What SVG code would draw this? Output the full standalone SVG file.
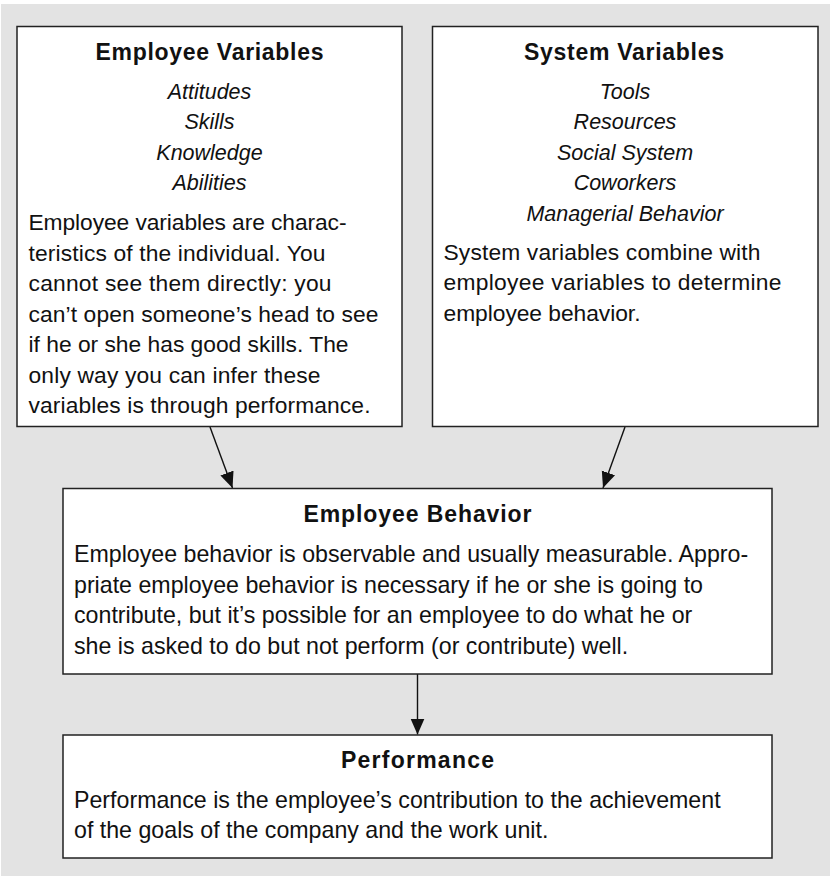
<svg xmlns="http://www.w3.org/2000/svg" width="830" height="876" viewBox="0 0 830 876">
  <style>
    .box { fill: #ffffff; stroke: #222222; stroke-width: 1.5; }
    .title { font-family: "Liberation Sans", Arial, sans-serif; font-weight: bold; font-size: 23px; fill: #111111; text-anchor: middle; }
    .item { font-family: "Liberation Sans", Arial, sans-serif; font-style: italic; font-size: 21.5px; fill: #111111; text-anchor: middle; }
    .body { font-family: "Liberation Sans", Arial, sans-serif; font-size: 22.8px; fill: #111111; }
    .wide { font-size: 23.2px; }
    .conn { stroke: #111111; stroke-width: 1.4; fill: none; }
  </style>
  <defs>
    <marker id="arrow" markerUnits="userSpaceOnUse" markerWidth="17" markerHeight="15" refX="16" refY="7" orient="auto">
      <path d="M0,0 L16,7 L0,14 z" fill="#111111"/>
    </marker>
  </defs>

  <!-- panel background -->
  <rect x="1" y="4" width="829" height="872" fill="#e3e3e3"/>

  <!-- connectors -->
  <g id="connectors">
    <line class="conn" x1="210" y1="427" x2="232.5" y2="488" marker-end="url(#arrow)"/>
    <line class="conn" x1="625" y1="427" x2="603" y2="488" marker-end="url(#arrow)"/>
    <line class="conn" x1="417.5" y1="674" x2="417.5" y2="734.5" marker-end="url(#arrow)"/>
  </g>

  <g id="employee-variables">
    <rect class="box" x="17" y="26.5" width="385" height="400"/>
    <text class="title" x="209.5" y="60" textLength="228">Employee Variables</text>
    <text class="item" x="209.5" y="99">Attitudes</text>
    <text class="item" x="209.5" y="129.3">Skills</text>
    <text class="item" x="209.5" y="159.6">Knowledge</text>
    <text class="item" x="209.5" y="190">Abilities</text>
    <text class="body" x="28.5" y="230" textLength="318">Employee variables are charac-</text>
    <text class="body" x="28.5" y="260.5" textLength="297">teristics of the individual. You</text>
    <text class="body" x="28.5" y="291" textLength="303">cannot see them directly: you</text>
    <text class="body" x="28.5" y="321.5" textLength="350">can’t open someone’s head to see</text>
    <text class="body" x="28.5" y="352" textLength="320">if he or she has good skills. The</text>
    <text class="body" x="28.5" y="382.5" textLength="292">only way you can infer these</text>
    <text class="body" x="28.5" y="413" textLength="342">variables is through performance.</text>
  </g>

  <g id="system-variables">
    <rect class="box" x="432.5" y="26.5" width="385.5" height="400"/>
    <text class="title" x="624" y="60" textLength="200">System Variables</text>
    <text class="item" x="625" y="99">Tools</text>
    <text class="item" x="625" y="129.3">Resources</text>
    <text class="item" x="625" y="159.6">Social System</text>
    <text class="item" x="625" y="190">Coworkers</text>
    <text class="item" x="625" y="220.5">Managerial Behavior</text>
    <text class="body" x="443.5" y="259.5" textLength="317">System variables combine with</text>
    <text class="body" x="443.5" y="290" textLength="338">employee variables to determine</text>
    <text class="body" x="443.5" y="320.5" textLength="197">employee behavior.</text>
  </g>

  <g id="employee-behavior">
    <rect class="box" x="63" y="488.5" width="709" height="185.5"/>
    <text class="title" x="417.5" y="522" textLength="228">Employee Behavior</text>
    <text class="body wide" x="74" y="562">Employee behavior is observable and usually measurable. Appro-</text>
    <text class="body wide" x="74" y="592.5">priate employee behavior is necessary if he or she is going to</text>
    <text class="body wide" x="74" y="623">contribute, but it’s possible for an employee to do what he or</text>
    <text class="body wide" x="74" y="653.5">she is asked to do but not perform (or contribute) well.</text>
  </g>

  <g id="performance">
    <rect class="box" x="63" y="735" width="709" height="123"/>
    <text class="title" x="417.5" y="768" textLength="153">Performance</text>
    <text class="body wide" x="74" y="807.5">Performance is the employee’s contribution to the achievement</text>
    <text class="body wide" x="74" y="838">of the goals of the company and the work unit.</text>
  </g>
</svg>
